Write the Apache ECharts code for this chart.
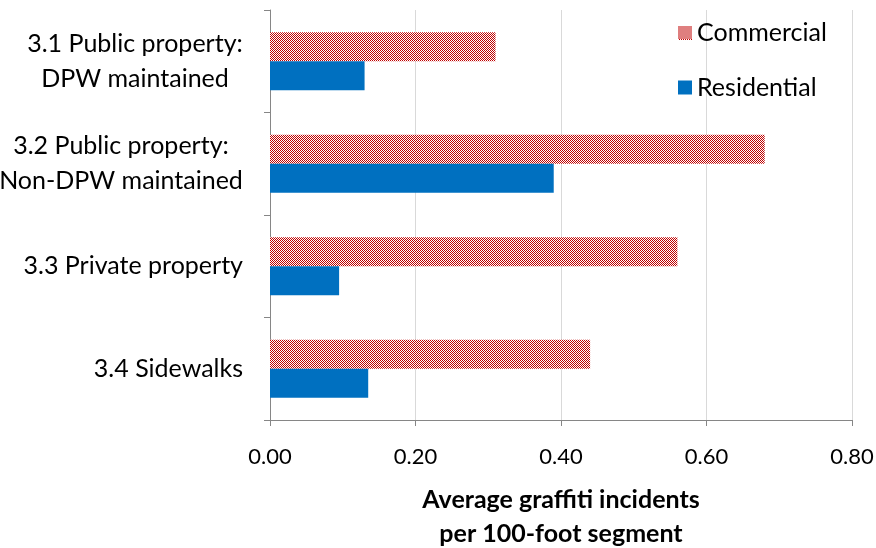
<!DOCTYPE html>
<html>
<head>
<meta charset="utf-8">
<script src="https://cdn.jsdelivr.net/npm/echarts@6/dist/echarts.min.js"></script>
<style>
  html, body { margin: 0; padding: 0; background: #fff; }
  #chart { width: 876px; height: 548px; }
</style>
</head>
<body>
<div id="chart"></div>
<script>
// Categories and values (average graffiti incidents per 100-foot segment)
const categories = [
  '3.1 Public property:\nDPW maintained',
  '3.2 Public property:\nNon-DPW maintained',
  '3.3 Private property',
  '3.4 Sidewalks'
];
const commercial = [0.31, 0.68, 0.56, 0.44];
const residential = [0.13, 0.39, 0.095, 0.135];
const xTicks = [0, 0.2, 0.4, 0.6, 0.8];

const font = 'Lato, "Noto Sans", sans-serif';
const labelSize = 25;
const RED = '#c00000';
const BLUE = '#0070c0';

// Red/white checkerboard canvas with 1px cells
function checkerCanvas(w, h) {
  const c = document.createElement('canvas');
  c.width = w; c.height = h;
  const ctx = c.getContext('2d');
  ctx.fillStyle = '#ffffff';
  ctx.fillRect(0, 0, w, h);
  ctx.fillStyle = RED;
  for (let y = 0; y < h; y++) {
    for (let x = (y % 2); x < w; x += 2) ctx.fillRect(x, y, 1, 1);
  }
  return c;
}
const checkerFill = { image: checkerCanvas(2, 2), repeat: 'repeat' };
const checkerIcon = 'image://' + checkerCanvas(14, 14).toDataURL();

// Two-line labels: lines are centred within a block as wide as the longest line,
// and the block itself sits right-aligned against the axis.
const measureCtx = document.createElement('canvas').getContext('2d');
measureCtx.font = labelSize + 'px ' + font;
const rich = {};
const labelText = {};
categories.forEach((cat, i) => {
  const lines = cat.split('\n');
  if (lines.length === 1) {
    rich['s' + i] = { fontFamily: font, fontSize: labelSize, color: '#000', lineHeight: 35 };
    labelText[cat] = '{s' + i + '|' + cat + '}';
  } else {
    const w = Math.ceil(Math.max(...lines.map(l => measureCtx.measureText(l).width)));
    rich['m' + i] = { fontFamily: font, fontSize: labelSize, color: '#000', lineHeight: 35, width: w, align: 'center' };
    labelText[cat] = lines.map(l => '{m' + i + '|' + l + '}').join('\n');
  }
});

const chart = echarts.init(document.getElementById('chart'));
chart.setOption({
  animation: false,
  backgroundColor: '#ffffff',
  grid: { left: 270, right: 24, top: 10, bottom: 128, outerBoundsMode: 'none', containLabel: false },
  legend: {
    orient: 'vertical',
    left: 673,
    top: 15,
    itemGap: 30,
    itemWidth: 14,
    itemHeight: 14,
    icon: 'rect',
    textStyle: { fontFamily: font, fontSize: 25, color: '#000' },
    data: [{ name: 'Commercial', icon: checkerIcon }, { name: 'Residential' }]
  },
  xAxis: {
    type: 'value',
    min: 0,
    max: 0.8,
    interval: 0.2,
    name: 'Average graffiti incidents\nper 100-foot segment',
    nameLocation: 'middle',
    nameGap: 63,
    nameTextStyle: { fontFamily: font, fontSize: 25, fontWeight: 'bold', color: '#000', lineHeight: 34 },
    axisLine: { show: true, lineStyle: { color: '#868686', width: 1 } },
    axisTick: { show: true, length: 6, lineStyle: { color: '#868686' } },
    axisLabel: {
      fontFamily: font, fontSize: 22, color: '#000', margin: 26,
      formatter: v => v.toFixed(2)
    },
    splitLine: { show: true, lineStyle: { color: '#d9d9d9', width: 1 } }
  },
  yAxis: {
    type: 'category',
    inverse: true,
    data: categories,
    axisLine: { show: true, lineStyle: { color: '#868686', width: 1 } },
    axisTick: { show: true, length: 6, lineStyle: { color: '#868686' } },
    axisLabel: {
      margin: 27,
      align: 'right',
      formatter: v => labelText[v],
      rich: rich
    }
  },
  series: [
    {
      name: 'Commercial',
      type: 'bar',
      data: commercial,
      barWidth: 29,
      barGap: '0%',
      itemStyle: { color: checkerFill }
    },
    {
      name: 'Residential',
      type: 'bar',
      data: residential,
      barWidth: 29,
      barGap: '0%',
      itemStyle: { color: BLUE }
    }
  ]
});
</script>
</body>
</html>
